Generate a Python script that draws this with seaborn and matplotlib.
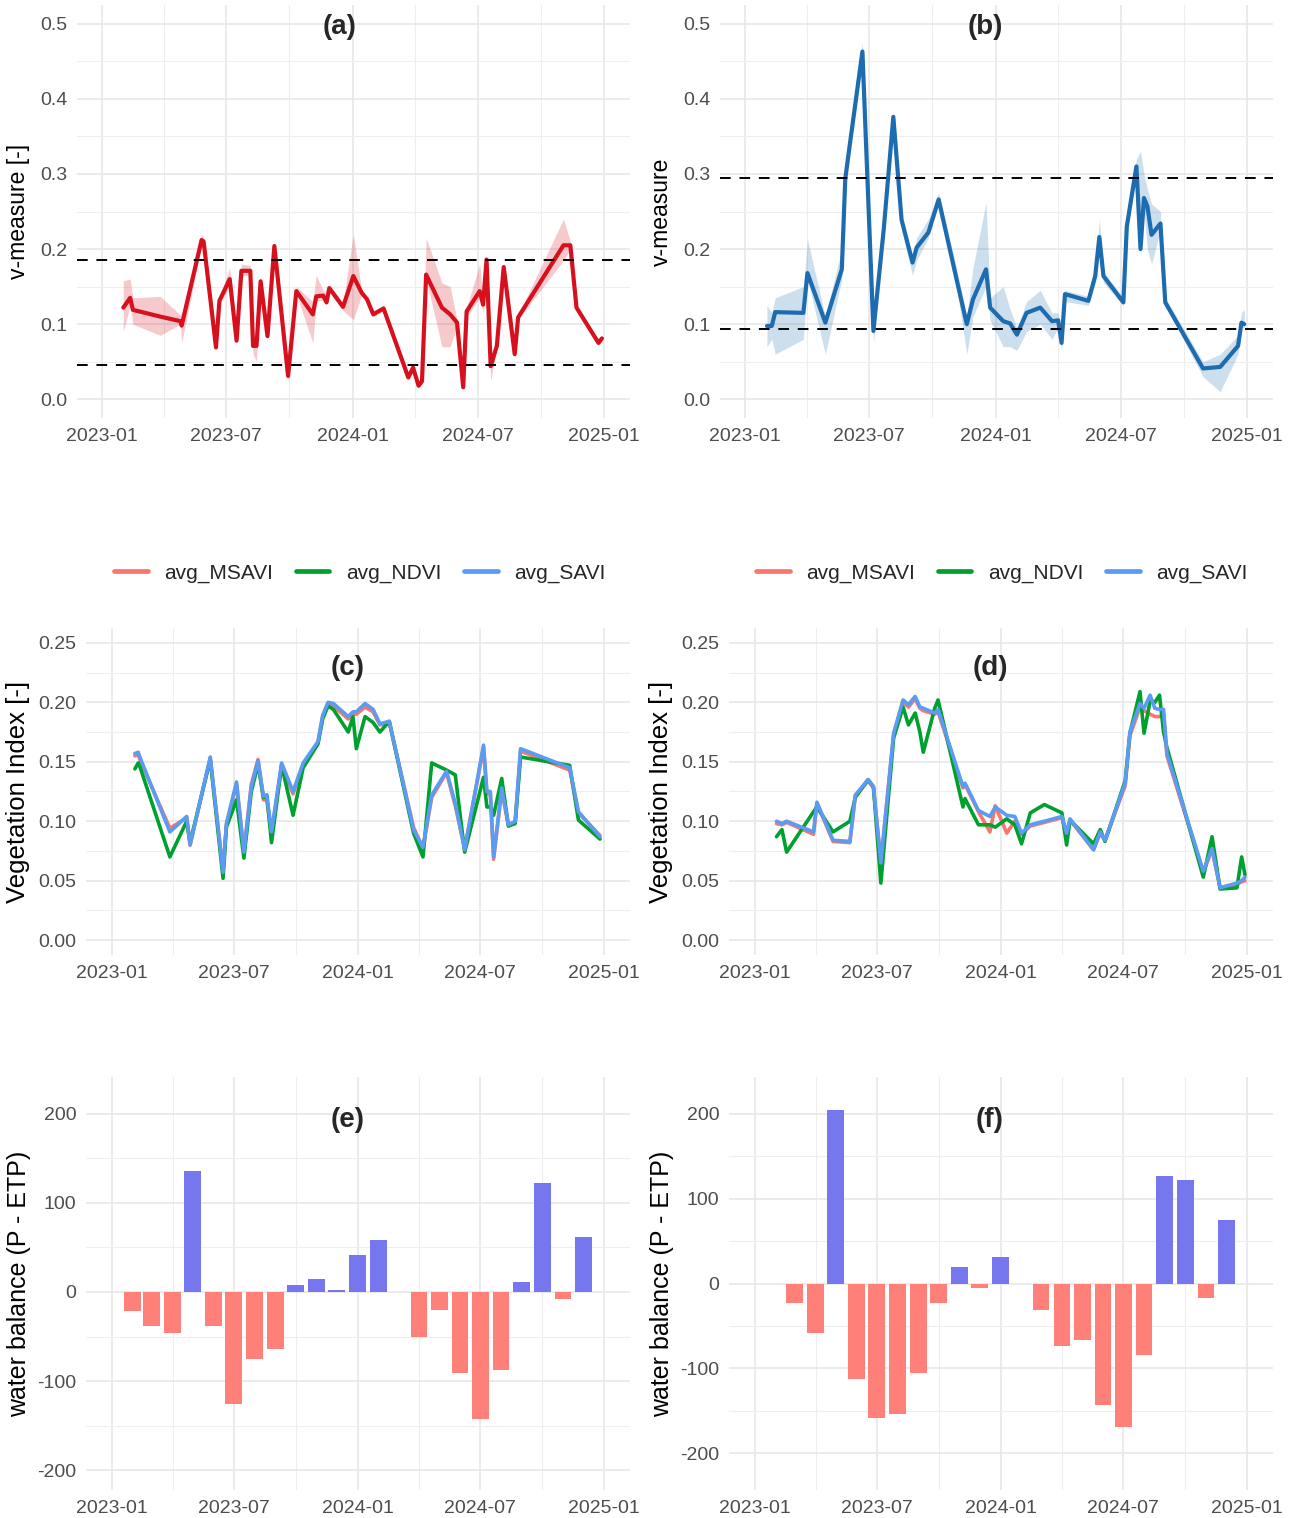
import numpy as np
import pandas as pd
import matplotlib
matplotlib.use("Agg")
import matplotlib.pyplot as plt
import matplotlib.dates as mdates
from matplotlib.ticker import MultipleLocator, FormatStrFormatter
from matplotlib.lines import Line2D
import seaborn as sns

sns.set_theme(style="white")
plt.rcParams['font.family'] = ['Liberation Sans', 'DejaVu Sans']
plt.rcParams['axes.unicode_minus'] = False

T0 = pd.Timestamp("2023-01-01")

# ---- (a) v-measure, site 1 (days since 2023-01-01) ----
a_day = [31, 41, 45, 85, 114, 116, 145, 148, 166, 171, 186, 196, 203, 216, 220, 225, 231, 241,
         251, 271, 283, 307, 312, 322, 327, 331, 351, 366, 378, 386, 395, 410, 446, 453, 461, 466,
         472, 495, 507, 517, 526, 531, 550, 555, 560, 566, 575, 585, 601, 606, 672, 682, 691, 723, 728]
a_val = [0.122, 0.135, 0.119, 0.110, 0.104, 0.098, 0.212, 0.210, 0.069, 0.131, 0.160, 0.078,
         0.171, 0.171, 0.071, 0.071, 0.157, 0.084, 0.204, 0.031, 0.144, 0.113, 0.137, 0.138,
         0.129, 0.148, 0.123, 0.164, 0.142, 0.133, 0.113, 0.121, 0.029, 0.042, 0.018, 0.024,
         0.166, 0.122, 0.113, 0.102, 0.016, 0.117, 0.144, 0.126, 0.186, 0.044, 0.071, 0.176,
         0.060, 0.109, 0.205, 0.205, 0.122, 0.075, 0.081]
a_lo = [0.090, 0.125, 0.100, 0.085, 0.100, 0.075, 0.205, 0.205, 0.066, 0.128, 0.150, 0.075,
        0.165, 0.165, 0.060, 0.050, 0.150, 0.080, 0.200, 0.025, 0.140, 0.075, 0.130, 0.132,
        0.125, 0.145, 0.118, 0.106, 0.138, 0.130, 0.110, 0.118, 0.025, 0.038, 0.015, 0.020,
        0.160, 0.070, 0.070, 0.098, 0.012, 0.110, 0.135, 0.115, 0.180, 0.025, 0.068, 0.172,
        0.057, 0.106, 0.185, 0.200, 0.119, 0.072, 0.078]
a_hi = [0.158, 0.160, 0.135, 0.137, 0.112, 0.115, 0.220, 0.215, 0.072, 0.135, 0.175, 0.082,
        0.180, 0.178, 0.075, 0.075, 0.165, 0.088, 0.208, 0.035, 0.150, 0.130, 0.165, 0.145,
        0.140, 0.152, 0.128, 0.220, 0.146, 0.136, 0.116, 0.124, 0.033, 0.046, 0.022, 0.028,
        0.215, 0.155, 0.150, 0.106, 0.020, 0.122, 0.180, 0.135, 0.190, 0.048, 0.075, 0.180,
        0.063, 0.112, 0.240, 0.210, 0.125, 0.078, 0.084]
a_thr = [0.185, 0.046]

# ---- (b) v-measure, site 2 ----
b_day = [32, 39, 44, 85, 91, 117, 141, 146, 151, 171, 187, 202, 216, 228, 244, 250, 267, 282,
         308, 323, 332, 351, 357, 376, 386, 396, 410, 430, 447, 456, 461, 466, 500, 510, 516, 522,
         551, 556, 570, 576, 581, 586, 592, 605, 612, 667, 692, 718, 723, 727]
b_val = [0.0975, 0.0975, 0.116, 0.115, 0.168, 0.102, 0.173, 0.293, 0.328, 0.463, 0.091, 0.226,
         0.376, 0.239, 0.182, 0.202, 0.222, 0.266, 0.160, 0.100, 0.133, 0.173, 0.122, 0.104,
         0.101, 0.086, 0.115, 0.122, 0.104, 0.105, 0.075, 0.140, 0.131, 0.164, 0.216, 0.164,
         0.129, 0.230, 0.310, 0.200, 0.268, 0.257, 0.219, 0.234, 0.129, 0.041, 0.043, 0.071,
         0.102, 0.100]
b_lo = [0.070, 0.080, 0.060, 0.080, 0.160, 0.060, 0.160, 0.285, 0.320, 0.455, 0.075, 0.220,
        0.370, 0.225, 0.165, 0.185, 0.215, 0.260, 0.150, 0.060, 0.110, 0.150, 0.105, 0.070,
        0.070, 0.065, 0.090, 0.100, 0.080, 0.095, 0.065, 0.130, 0.125, 0.155, 0.205, 0.155,
        0.125, 0.220, 0.300, 0.190, 0.250, 0.200, 0.180, 0.225, 0.125, 0.030, 0.010, 0.060,
        0.095, 0.095]
b_hi = [0.125, 0.115, 0.135, 0.150, 0.213, 0.110, 0.200, 0.300, 0.335, 0.475, 0.100, 0.232,
        0.385, 0.245, 0.190, 0.215, 0.240, 0.275, 0.175, 0.110, 0.175, 0.262, 0.135, 0.150,
        0.120, 0.095, 0.130, 0.145, 0.115, 0.115, 0.090, 0.145, 0.137, 0.170, 0.240, 0.170,
        0.135, 0.240, 0.320, 0.330, 0.300, 0.280, 0.260, 0.250, 0.135, 0.050, 0.060, 0.085,
        0.115, 0.120]
b_thr = [0.294, 0.093]

# ---- (c) vegetation indices, site 1 ----
c_day = [34, 39, 42, 86, 111, 116, 146, 165, 170, 185, 196, 207, 217, 225, 230, 237, 252, 269,
         284, 306, 313, 321, 329, 351, 358, 363, 376, 388, 398, 412, 448, 462, 475, 497, 510, 524,
         552, 557, 562, 567, 579, 589, 599, 607, 680, 693, 725]
c_msavi = [0.155, 0.156, 0.151, 0.094, 0.103, 0.080, 0.153, 0.058, 0.097, 0.131, 0.074, 0.131,
           0.152, 0.118, 0.118, 0.090, 0.147, 0.123, 0.147, 0.166, 0.188, 0.199, 0.197, 0.186,
           0.190, 0.190, 0.196, 0.192, 0.181, 0.183, 0.095, 0.077, 0.120, 0.141, 0.113, 0.077,
           0.162, 0.123, 0.124, 0.068, 0.126, 0.096, 0.099, 0.159, 0.143, 0.107, 0.088]
c_ndvi = [0.144, 0.149, 0.145, 0.070, 0.100, 0.082, 0.152, 0.052, 0.095, 0.118, 0.069, 0.125,
          0.148, 0.120, 0.122, 0.082, 0.147, 0.105, 0.145, 0.165, 0.186, 0.197, 0.194, 0.175,
          0.188, 0.161, 0.188, 0.183, 0.175, 0.184, 0.090, 0.070, 0.149, 0.143, 0.139, 0.074,
          0.137, 0.112, 0.112, 0.105, 0.136, 0.096, 0.098, 0.154, 0.147, 0.101, 0.085]
c_savi = [0.157, 0.158, 0.153, 0.091, 0.104, 0.080, 0.154, 0.057, 0.098, 0.133, 0.074, 0.129,
          0.151, 0.121, 0.122, 0.091, 0.149, 0.125, 0.149, 0.167, 0.189, 0.200, 0.199, 0.188,
          0.192, 0.192, 0.199, 0.194, 0.182, 0.184, 0.093, 0.078, 0.122, 0.142, 0.115, 0.076,
          0.164, 0.125, 0.125, 0.070, 0.128, 0.097, 0.100, 0.161, 0.145, 0.108, 0.087]

# ---- (d) vegetation indices, site 2 ----
d_day = [32, 40, 47, 87, 92, 116, 141, 149, 168, 176, 187, 206, 220, 228, 238, 245, 250, 267,
         272, 309, 312, 332, 349, 357, 374, 386, 396, 409, 430, 456, 463, 468, 503, 513, 520, 550,
         557, 572, 578, 587, 594, 601, 607, 612, 666, 679, 691, 716, 723, 728]
d_msavi = [0.098, 0.097, 0.099, 0.089, 0.115, 0.083, 0.082, 0.121, 0.134, 0.128, 0.066, 0.173,
           0.200, 0.196, 0.203, 0.195, 0.193, 0.190, 0.192, 0.128, 0.131, 0.108, 0.091, 0.113,
           0.090, 0.100, 0.089, 0.096, 0.099, 0.103, 0.089, 0.101, 0.076, 0.090, 0.084, 0.130,
           0.172, 0.196, 0.193, 0.190, 0.188, 0.188, 0.190, 0.155, 0.057, 0.076, 0.044, 0.047,
           0.049, 0.050]
d_ndvi = [0.087, 0.093, 0.074, 0.108, 0.112, 0.091, 0.100, 0.120, 0.135, 0.129, 0.048, 0.170,
          0.196, 0.181, 0.191, 0.175, 0.158, 0.195, 0.202, 0.112, 0.119, 0.097, 0.097, 0.095,
          0.102, 0.097, 0.081, 0.107, 0.114, 0.107, 0.080, 0.101, 0.081, 0.093, 0.083, 0.134,
          0.174, 0.209, 0.174, 0.201, 0.200, 0.206, 0.175, 0.162, 0.053, 0.087, 0.043, 0.044,
          0.070, 0.055]
d_savi = [0.100, 0.098, 0.100, 0.091, 0.116, 0.084, 0.083, 0.122, 0.135, 0.129, 0.065, 0.174,
          0.202, 0.198, 0.205, 0.196, 0.195, 0.191, 0.194, 0.129, 0.132, 0.109, 0.104, 0.112,
          0.105, 0.104, 0.090, 0.097, 0.100, 0.104, 0.090, 0.102, 0.076, 0.091, 0.084, 0.132,
          0.175, 0.199, 0.195, 0.206, 0.195, 0.194, 0.194, 0.157, 0.058, 0.077, 0.044, 0.048,
          0.050, 0.053]

# ---- (e), (f) monthly water balance P - ETP, Feb 2023 .. Dec 2024 ----
wb_months = pd.date_range("2023-02-01", "2024-12-01", freq="MS")
e_val = [-21, -38, -46, 136, -38, -126, -75, -64, 8, 15, 2, 41, 58, -0.5, -51, -20, -91, -142,
         -87, 11, 122, -8, 62]
f_val = [-0.5, -23, -58, 204, -112, -158, -153, -105, -23, 20, -5, 31, -0.5, -31, -74, -66,
         -143, -169, -84, 126, 122, -17, 75]

idx_names = ["avg_MSAVI", "avg_NDVI", "avg_SAVI"]
idx_pal = {"avg_MSAVI": "#F8766D", "avg_NDVI": "#00A02E", "avg_SAVI": "#5B9BF2"}


def to_dates(days):
    return T0 + pd.to_timedelta(np.array(days), unit="D")


W, H = 1292, 1518
fig = plt.figure(figsize=(W / 100, H / 100), dpi=100)


def px_axes(x0, y0, x1, y1):
    return fig.add_axes([x0 / W, 1 - y1 / H, (x1 - x0) / W, (y1 - y0) / H])


def style(ax, left_days, right_days, ylim, major, minor, fmt, ylabel, labx, labsize):
    ax.set_xlim(T0 + pd.Timedelta(days=left_days), T0 + pd.Timedelta(days=right_days))
    ax.set_ylim(*ylim)
    ax.xaxis.set_major_locator(mdates.MonthLocator(bymonth=[1, 7]))
    ax.xaxis.set_minor_locator(mdates.MonthLocator(bymonth=[4, 10]))
    ax.xaxis.set_major_formatter(mdates.DateFormatter("%Y-%m"))
    ax.yaxis.set_major_locator(MultipleLocator(major))
    ax.yaxis.set_minor_locator(MultipleLocator(minor))
    ax.yaxis.set_major_formatter(FormatStrFormatter(fmt))
    ax.grid(which="major", color="#E6E6E6", lw=1.1)
    ax.grid(which="minor", color="#EEEEEE", lw=0.8)
    ax.set_axisbelow(True)
    for s in ax.spines.values():
        s.set_visible(False)
    ax.tick_params(which="both", length=0, labelsize=14, labelcolor="#4D4D4D", pad=7)
    ax.set_xlabel("")
    ax.set_ylabel(ylabel, fontsize=labsize, color="black")
    ax.yaxis.set_label_coords(labx, 0.5)


# v-measure panels
for (x0, x1, days, val, lo, hi, thr, col, lab, title, title_x) in [
        (77, 630, a_day, a_val, a_lo, a_hi, a_thr, "#D7101E", "v-measure [-]", "(a)", 340),
        (720, 1273, b_day, b_val, b_lo, b_hi, b_thr, "#1C6CAF", "v-measure", "(b)", 985)]:
    ax = px_axes(x0, 5, x1, 418)
    dates = to_dates(days)
    ax.fill_between(dates, lo, hi, color=col, alpha=0.22, lw=0)
    sns.lineplot(x=dates, y=val, ax=ax, color=col, linewidth=3.0)
    for t in thr:
        ax.axhline(t, color="black", lw=1.4, ls=(0, (5.5, 4.5)))
    style(ax, -36.4, 768.9, (-0.025, 0.525), 0.1, 0.05, "%.1f", lab, -0.085, 16.5)
    fig.text(title_x / W, 1 - 27 / H, title, fontsize=20,
             fontweight="bold", ha="center", va="center")

# vegetation index panels
for (x0, x1, days, ms, nd, sv, title, title_x, leg_x) in [
        (86, 630, c_day, c_msavi, c_ndvi, c_savi, "(c)", 348, 360),
        (729, 1273, d_day, d_msavi, d_ndvi, d_savi, "(d)", 990, 1002)]:
    ax = px_axes(x0, 628, x1, 955)
    dates = to_dates(days)
    df = pd.DataFrame({"date": np.concatenate([dates, dates, dates]),
                       "value": ms + nd + sv,
                       "index": np.repeat(idx_names, len(days))})
    sns.lineplot(data=df, x="date", y="value", hue="index", hue_order=idx_names,
                 palette=idx_pal, linewidth=2.6, ax=ax, legend=False)
    style(ax, -38.6, 769.6, (-0.0125, 0.2625), 0.05, 0.025, "%.2f",
          "Vegetation Index [-]", -0.103, 18.5)
    fig.text(title_x / W, 1 - 668 / H, title, fontsize=20, fontweight="bold",
             ha="center", va="center")
    handles = [Line2D([], [], color=idx_pal[n], lw=3.4) for n in idx_names]
    fig.legend(handles, idx_names, loc="center", bbox_to_anchor=(leg_x / W, 1 - 573 / H),
               ncol=3, frameon=False, fontsize=15, handlelength=1.6, handletextpad=0.8,
               columnspacing=1.1)

# water balance panels
for (x0, x1, vals, ylim, title, title_x) in [
        (86, 630, e_val, (-222, 241), "(e)", 348),
        (729, 1273, f_val, (-243, 243), "(f)", 990)]:
    ax = px_axes(x0, 1077, x1, 1490)
    cols = ["#7676EE" if v > 0 else "#FF8078" for v in vals]
    ax.bar(wb_months, vals, width=25, color=cols, lw=0)
    style(ax, -38.6, 769.6, ylim, 100, 50, "%d", "water balance (P - ETP)", -0.101, 18)
    fig.text(title_x / W, 1 - 1120 / H, title, fontsize=20, fontweight="bold",
             ha="center", va="center")

fig.savefig("out.png", dpi=100)
